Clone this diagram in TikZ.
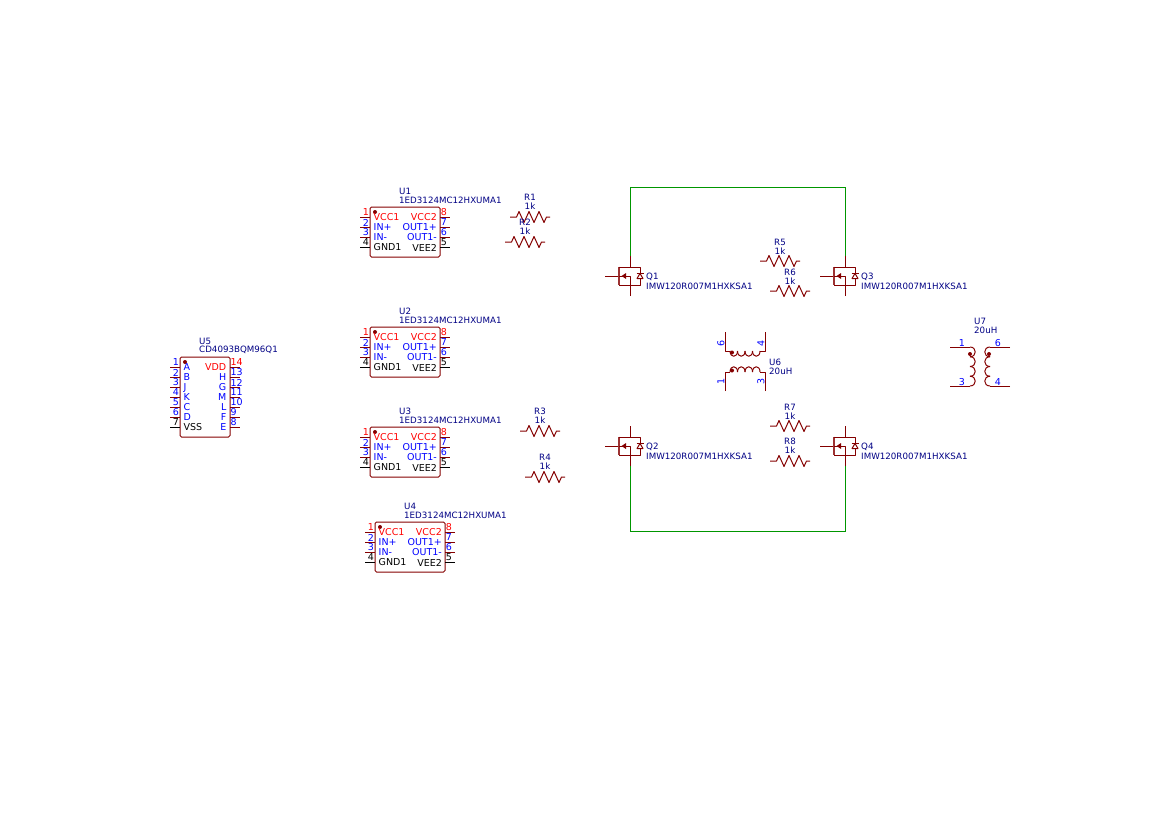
\documentclass[tikz,border=0pt]{standalone}
\usepackage{fontspec}
\setmainfont{DejaVu Sans}
\definecolor{sym}{RGB}{132,0,0}
\definecolor{refc}{RGB}{0,0,132}
\definecolor{wirec}{RGB}{0,150,0}
\tikzset{
    body/.style={sym, line width=1pt, line join=round},
    wire/.style={wirec, line width=1pt},
    txt/.style={inner sep=0pt, font=\fontsize{8.7}{9}\selectfont},
    pintxt/.style={inner sep=0pt, font=\fontsize{9.5}{10}\selectfont},
    ref/.style={txt, refc},
    pinnum/.style={pintxt, blue}
}

% chip with 4+4 pins: name, x, y (top left of box), reference
\newcommand{\driverchip}[4]{
    \draw[body, rounded corners=1.5pt] (#2,#3) rectangle (#2+70,#3+50);
    \fill[sym] (#2+5,#3+5) circle (2);
    \node[ref, anchor=west] (#1ref) at (#2+29,#3-16) {#4};
    \node[ref, anchor=west] (#1val) at (#2+29,#3-7) {1ED3124MC12HXUMA1};
    \foreach \n/\l/\dy/\c/\p in {1/VCC1/10/red/sym,2/IN+/20/blue/sym,3/IN-/30/blue/sym,4/GND1/40/black/black} {
        \draw[body, \p] (#2-10,#3+\dy) -- (#2,#3+\dy);
        \node[pintxt, \c] (#1p\n) at (#2-4,#3+\dy-4.5) {\n};
        \node[pintxt, \c, anchor=west] (#1n\n) at (#2+3.5,#3+\dy+0.5) {\l};
    }
    \foreach \n/\l/\dy/\c/\p in {8/VCC2/10/red/sym,7/OUT1+/20/blue/sym,6/OUT1-/30/blue/sym,5/VEE2/40/black/black} {
        \draw[body, \p] (#2+70,#3+\dy) -- (#2+80,#3+\dy);
        \node[pintxt, \c] (#1p\n) at (#2+74,#3+\dy-4.5) {\n};
        \node[pintxt, \c, anchor=east] (#1n\n) at (#2+67,#3+\dy+0.5) {\l};
    }
}

% resistor: name, x, y (centre), reference, label y
\newcommand{\resistor}[5]{
    \draw[body] (#2-20,#3) -- (#2-13.5,#3) -- (#2-11,#3-5.5) -- (#2-6,#3+5.5) -- (#2-1,#3-5.5)
        -- (#2+4,#3+5.5) -- (#2+9,#3-5.5) -- (#2+14,#3+5.5) -- (#2+16.5,#3) -- (#2+20,#3);
    \node[ref] (#1ref) at (#2,#5) {#4};
    \node[ref] (#1val) at (#2,#5+9.5) {1k};
}

% mosfet: name, x of drain, y of gate, reference
\newcommand{\mosfet}[4]{
    \coordinate (#1d) at (#2,#3-20);
    \coordinate (#1s) at (#2,#3+20);
    \draw[body] (#2-25,#3) -- (#2-12,#3);
    \draw[sym!80, line width=2.5pt] (#2-11,#3-9.5) -- (#2-11,#3+9);
    \draw[body] (#1d) -- (#2,#3-9) -- (#2-11,#3-9);
    \draw[body] (#1s) -- (#2,#3+9) -- (#2-11,#3+9);
    \draw[body] (#2-11,#3) -- (#2,#3) -- (#2,#3+9);
    \fill[sym] (#2-8.5,#3) -- (#2-4,#3-3) -- (#2-4,#3+3) -- cycle;
    \draw[body] (#2,#3-9) -- (#2+10,#3-9) -- (#2+10,#3+9) -- (#2,#3+9);
    \draw[body, fill=white] (#2+10,#3-2.5) -- (#2+7,#3+2.5) -- (#2+13,#3+2.5) -- cycle;
    \draw[body] (#2+6.5,#3-2.5) -- (#2+13.5,#3-2.5);
    \node[ref, anchor=west] (#1ref) at (#2+16,#3+1) {#4};
    \node[ref, anchor=west] (#1val) at (#2+16,#3+10) {IMW120R007M1HXKSA1};
}

\begin{document}
\begin{tikzpicture}[x=1pt, y=-1pt]
    \useasboundingbox (0,0) rectangle (1169,827);

    \driverchip{ua}{370}{207}{U1}
    \driverchip{ub}{370}{327}{U2}
    \driverchip{uc}{370}{427}{U3}
    \driverchip{ud}{375}{522}{U4}

    % quad gate
    \draw[body, rounded corners=1.5pt] (180,357) rectangle (230,437);
    \fill[sym] (185,362) circle (2);
    \node[ref, anchor=west] (ueref) at (199,341) {U5};
    \node[ref, anchor=west] (ueval) at (199,350) {CD4093BQM96Q1};
    \foreach \n/\l/\y/\c/\p in {1/A/367/blue/sym,2/B/377/blue/sym,3/J/387/blue/sym,4/K/397/blue/sym,5/C/407/blue/sym,6/D/417/blue/sym,7/VSS/427/black/black} {
        \draw[body, \p] (170,\y) -- (180,\y);
        \node[pintxt, \c] (uep\n) at (176,\y-4.5) {\n};
        \node[pintxt, \c, anchor=west] (uen\n) at (183.5,\y+0.5) {\l};
    }
    \foreach \n/\l/\y/\c in {14/VDD/367/red,13/H/377/blue,12/G/387/blue,11/M/397/blue,10/L/407/blue,9/F/417/blue,8/E/427/blue} {
        \draw[body] (230,\y) -- (240,\y);
        \node[pintxt, \c, anchor=west] (uep\n) at (230.5,\y-4.5) {\n};
        \node[pintxt, \c, anchor=east] (uen\n) at (226.5,\y+0.5) {\l};
    }

    \resistor{ra}{530}{217}{R1}{197}
    \resistor{rb}{525}{242}{R2}{222}
    \resistor{rc}{540}{431}{R3}{411}
    \resistor{rd}{545}{477}{R4}{457}
    \resistor{re}{780}{261}{R5}{242}
    \resistor{rf}{790}{291}{R6}{272}
    \resistor{rg}{790}{426}{R7}{407}
    \resistor{rh}{790}{461}{R8}{441}

    \mosfet{qa}{630}{276}{Q1}
    \mosfet{qb}{630}{446}{Q2}
    \mosfet{qc}{845}{276}{Q3}
    \mosfet{qd}{845}{446}{Q4}

    \draw[wire] (qad) -- ++(0,-69) -| (qcd);
    \draw[wire] (qbs) -- ++(0,65) -| (qds);

    % transformer U6
    \draw[body] (725,332) -- (725,351) -- (730,351);
    \draw[body] (765,332) -- (765,351) -- (760,351);
    \draw[body] (725,391) -- (725,372) -- (730,372);
    \draw[body] (765,391) -- (765,372) -- (760,372);
    \foreach \x in {730,737.5,745,752.5} {
        \draw[body] (\x,351) .. controls (\x,358) and (\x+7.5,358) .. (\x+7.5,351);
        \draw[body] (\x,372) .. controls (\x,365) and (\x+7.5,365) .. (\x+7.5,372);
    }
    \fill[sym] (732,352.5) circle (2);
    \fill[sym] (732,370.5) circle (2);
    \node[pinnum, rotate=90] (ufp6) at (721,343) {6};
    \node[pinnum, rotate=90] (ufp4) at (761,343) {4};
    \node[pinnum, rotate=90] (ufp1) at (721,381) {1};
    \node[pinnum, rotate=90] (ufp3) at (761,381) {3};
    \node[ref, anchor=west] (ufref) at (769,362) {U6};
    \node[ref, anchor=west] (ufval) at (769,371) {20uH};

    % transformer U7
    \draw[body] (950,347) -- (970,347);
    \draw[body] (950,386) -- (970,386);
    \draw[body] (1010,347) -- (990,347);
    \draw[body] (1010,386) -- (990,386);
    \foreach \y in {347,356.75,366.5,376.25} {
        \draw[body] (970,\y) .. controls (977,\y) and (977,\y+9.75) .. (970,\y+9.75);
        \draw[body] (990,\y) .. controls (983,\y) and (983,\y+9.75) .. (990,\y+9.75);
    }
    \fill[sym] (970,354) circle (2);
    \fill[sym] (989,354) circle (2);
    \node[pinnum] (ugp1) at (962,343) {1};
    \node[pinnum] (ugp3) at (962,382) {3};
    \node[pinnum] (ugp6) at (998,343) {6};
    \node[pinnum] (ugp4) at (998,382) {4};
    \node[ref, anchor=west] (ugref) at (974,321) {U7};
    \node[ref, anchor=west] (ugval) at (974,330) {20uH};
\end{tikzpicture}
\end{document}
